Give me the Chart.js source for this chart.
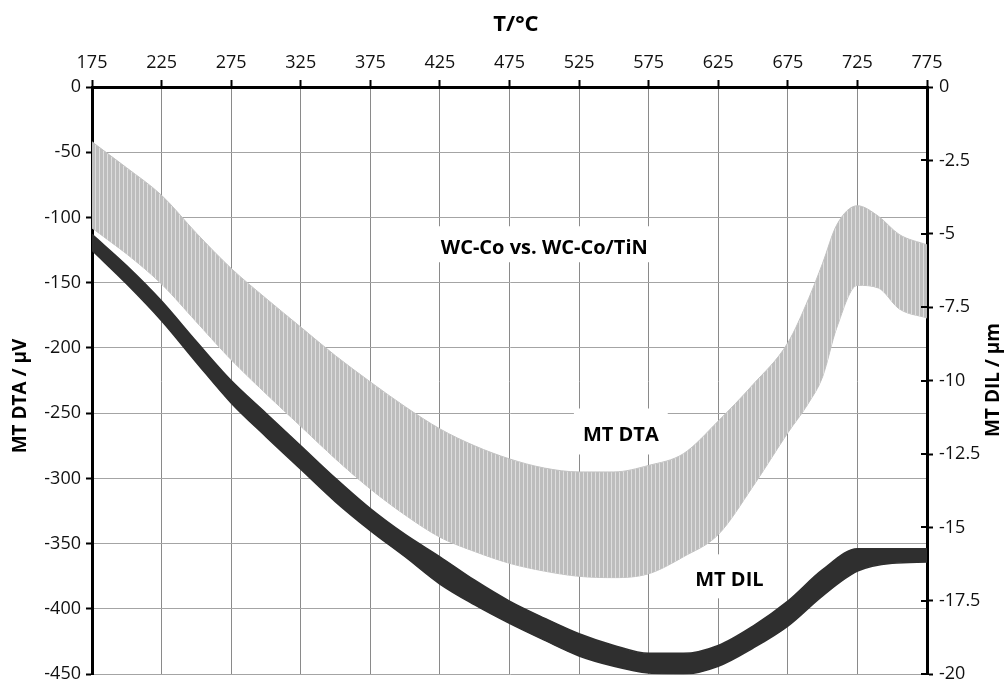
<!DOCTYPE html>
<html><head><meta charset="utf-8">
<script src="https://cdn.jsdelivr.net/npm/chart.js@4/dist/chart.umd.min.js"></script>
<style>html,body{margin:0;padding:0;background:#fff}#wrap{width:1005px;height:691px;position:relative}</style>
</head><body><div id="wrap"><canvas id="c" width="1005" height="691"></canvas></div>
<script>
// ---- data ----
const xTicks = [175, 225, 275, 325, 375, 425, 475, 525, 575, 625, 675, 725, 775];
const yLeftTicks = [0, -50, -100, -150, -200, -250, -300, -350, -400, -450];
const yRightTicks = [0, -2.5, -5, -7.5, -10, -12.5, -15, -17.5, -20];

// MT DTA (µV): noisy signal, given as the upper and lower edge of its band
const dtaT     = [175, 187.5, 200, 225, 250, 275, 300, 325, 350, 375, 400, 425, 450, 475, 500, 525, 550, 575, 600, 625, 650, 675, 690, 700, 710, 725, 740, 755, 775];
const dtaUpper = [-42, -52, -62, -83, -112, -139, -162, -184, -206, -226, -245, -262, -275, -285, -292, -295, -295, -290, -281, -256, -228, -196, -162, -135, -106, -91, -99, -113, -121];
const dtaLower = [-108, -118, -128, -151, -180, -209, -235, -260, -285, -308, -328, -345, -356, -365, -371, -375, -376, -373, -360, -343, -306, -265, -242, -222, -185, -152, -154, -170, -177];

// MT DIL (µm): band edges
const dilT     = [175, 200, 225, 250, 275, 300, 325, 350, 375, 400, 425, 450, 475, 500, 525, 550, 575, 600, 625, 650, 675, 700, 725, 750, 775];
const dilUpper = [-5.02, -6.09, -7.29, -8.67, -10.0, -11.11, -12.22, -13.33, -14.36, -15.24, -16.0, -16.8, -17.51, -18.09, -18.62, -19.02, -19.29, -19.29, -19.02, -18.36, -17.51, -16.44, -15.73, -15.73, -15.73];
const dilLower = [-5.56, -6.71, -7.96, -9.38, -10.76, -11.91, -13.02, -14.13, -15.11, -16.0, -16.93, -17.64, -18.27, -18.84, -19.38, -19.73, -19.96, -20.0, -19.73, -19.11, -18.36, -17.33, -16.49, -16.22, -16.18];

const titleTop = 'T/°C';
const titleLeft = 'MT DTA / µV';
const titleRight = 'MT DIL / µm';
const noteTexts = ['WC-Co vs. WC-Co/TiN', 'MT DTA', 'MT DIL'];
// ---- end data ----

const notePos = [
  {x: 500, y: -120.5, padX: 8, padY: 18},
  {x: 555, y: -264, padX: 9, padY: 23},
  {x: 633, y: -375, padX: 9, padY: 22}
];

const pts = (xs, ys) => xs.map((v, i) => ({x: v, y: ys[i]}));
const canvas = document.getElementById('c');
const ctx0 = canvas.getContext('2d');
const pc = document.createElement('canvas'); pc.width = 4; pc.height = 1;
const pg = pc.getContext('2d');
pg.fillStyle = '#bdbdbd'; pg.fillRect(0, 0, 4, 1);
pg.fillStyle = '#dedede'; pg.fillRect(3, 0, 1, 1);
const grayPattern = ctx0.createPattern(pc, 'repeat');

const FONT = '"Open Sans", "Liberation Sans", sans-serif';

const extras = {
  id: 'extras',
  beforeDatasetsDraw(chart) {
    const {ctx, scales: {x, y}} = chart;
    ctx.save();
    ctx.font = 'bold 20px ' + FONT;
    ctx.textAlign = 'center';
    ctx.textBaseline = 'middle';
    noteTexts.forEach((t, i) => {
      const p = notePos[i];
      const px = x.getPixelForValue(p.x), py = y.getPixelForValue(p.y);
      const w = ctx.measureText(t).width;
      ctx.fillStyle = '#fff';
      ctx.fillRect(px - w / 2 - p.padX, py - p.padY, w + 2 * p.padX, 2 * p.padY);
      ctx.fillStyle = '#000';
      ctx.fillText(t, px, py + 4);
    });
    ctx.restore();
  },
  afterDraw(chart) {
    const {ctx, scales: {y2}, chartArea} = chart;
    ctx.save();
    // inner half of the right axis tick marks
    ctx.strokeStyle = '#000';
    ctx.lineWidth = 2;
    yRightTicks.forEach(v => {
      const py = Math.round(y2.getPixelForValue(v));
      ctx.beginPath();
      ctx.moveTo(chartArea.right - 6, py);
      ctx.lineTo(chartArea.right, py);
      ctx.stroke();
    });
    ctx.fillStyle = '#000';
    ctx.textAlign = 'center';
    ctx.textBaseline = 'middle';
    ctx.font = 'bold 22px ' + FONT;
    ctx.fillText(titleTop, 516, 25);
    ctx.font = 'bold 19px ' + FONT;
    ctx.save(); ctx.translate(21, 396); ctx.rotate(-Math.PI / 2); ctx.fillText(titleLeft, 0, 0); ctx.restore();
    ctx.save(); ctx.translate(994, 380); ctx.rotate(-Math.PI / 2); ctx.fillText(titleRight, 0, 0); ctx.restore();
    ctx.restore();
  }
};

const lineOpts = {pointRadius: 0, cubicInterpolationMode: 'monotone'};

new Chart(canvas, {
  type: 'line',
  data: {
    datasets: [
      Object.assign({data: pts(dtaT, dtaUpper), yAxisID: 'y', fill: '+1', backgroundColor: grayPattern, borderColor: '#c2c2c2', borderWidth: 1, order: 2}, lineOpts),
      Object.assign({data: pts(dtaT, dtaLower), yAxisID: 'y', fill: false, borderColor: '#c2c2c2', borderWidth: 1, order: 2}, lineOpts),
      Object.assign({data: pts(dilT, dilUpper), yAxisID: 'y2', fill: '+1', backgroundColor: '#2f2f2f', borderColor: '#2f2f2f', borderWidth: 1.5, order: 1}, lineOpts),
      Object.assign({data: pts(dilT, dilLower), yAxisID: 'y2', fill: false, borderColor: '#2f2f2f', borderWidth: 1.5, order: 1}, lineOpts)
    ]
  },
  options: {
    responsive: false,
    animation: false,
    devicePixelRatio: 1,
    layout: {padding: {left: 0, right: 0, top: 0, bottom: 9}},
    plugins: {legend: {display: false}, tooltip: {enabled: false}},
    scales: {
      x: {
        type: 'linear', position: 'top', min: 175, max: 775,
        afterBuildTicks: s => { s.ticks = xTicks.map(v => ({value: v})); },
        afterFit: s => { s.height = 87; },
        ticks: {color: '#111', font: {family: FONT, size: 18}, padding: 6, maxRotation: 0},
        grid: {color: '#8a8a8a', lineWidth: 1, tickLength: 7, tickColor: '#000', tickWidth: 2},
        border: {display: true, color: '#000', width: 3}
      },
      y: {
        type: 'linear', position: 'left', min: -450, max: 0,
        afterBuildTicks: s => { s.ticks = yLeftTicks.map(v => ({value: v})); },
        afterFit: s => { s.width = 92; },
        ticks: {color: '#111', font: {family: FONT, size: 18}, padding: 5},
        grid: {color: '#a4a4a4', lineWidth: 1, tickLength: 6, tickColor: '#000', tickWidth: 2},
        border: {display: true, color: '#000', width: 3}
      },
      y2: {
        type: 'linear', position: 'right', min: -20, max: 0,
        afterBuildTicks: s => { s.ticks = yRightTicks.map(v => ({value: v})); },
        afterFit: s => { s.width = 78; },
        ticks: {color: '#111', font: {family: FONT, size: 18}, padding: 6},
        grid: {drawOnChartArea: false, tickLength: 6, tickColor: '#000', tickWidth: 2},
        border: {display: true, color: '#000', width: 3}
      }
    }
  },
  plugins: [extras]
});
</script>
</body></html>
